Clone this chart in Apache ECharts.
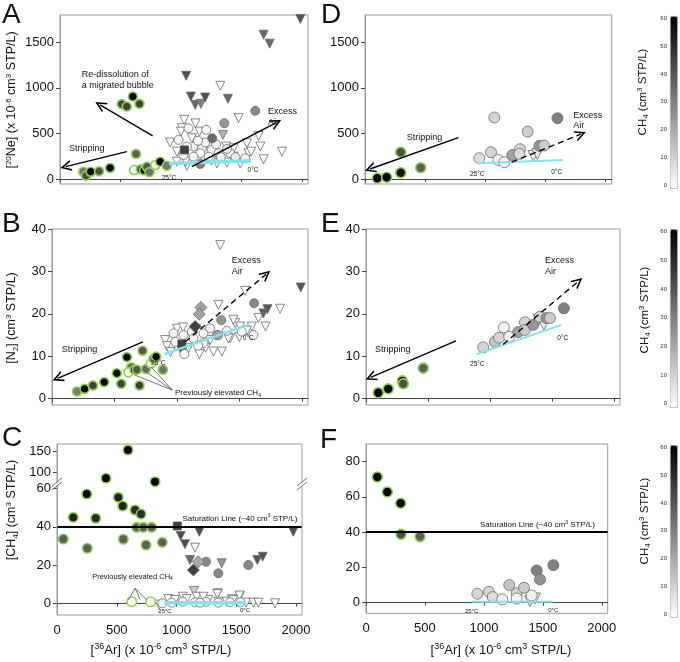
<!DOCTYPE html>
<html><head><meta charset="utf-8">
<script src="https://cdn.jsdelivr.net/npm/echarts@6/dist/echarts.min.js"></script>
<style>html,body{margin:0;padding:0;background:#fff}#c{width:680px;height:662px}</style>
</head><body><div id="c"></div>
<script>
// ---------------- data ----------------
const xTicks = [0, 500, 1000, 1500, 2000];
const neTicks = [0, 500, 1000, 1500];
const n2Ticks = [0, 10, 20, 30, 40];
const ch4LoTicks = [0, 20, 40, 60];
const ch4HiTicks = [100, 150];
const ch4FTicks = [0, 20, 40, 60, 80];
const cbTicks = [0, 10, 20, 30, 40, 50, 60];

// points: [36Ar, value, CH4 shade (0..60)]
const A_green = [[193,80,32],[215,36,42],[254,80,60],[323,85,42],[414,121,60],[511,822,45],[552,795,45],[602,905,60],[657,825,45],[629,275,38],[613,99,0],[668,106,42],[695,95,58],[718,135,40],[740,75,34],[789,154,0],[828,190,60],[883,146,33]];
const A_circ = [[1062,557,2],[1209,539,2],[980,429,2],[1104,356,2],[1173,337,3],[1256,319,2],[1311,283,3],[1159,283,2],[1021,264,2],[1104,245,3],[1228,245,2],[1407,283,2],[1531,227,3],[1049,356,2],[1200,400,2],[1290,380,3],[1140,420,2],[1380,330,5],[1330,240,3],[1450,240,5],[1358,612,25],[1258,447,35],[1159,165,30],[1614,748,28]];
const A_tri = [[1325,1023,0],[1476,668,0],[1026,649,0],[1007,557,0],[1153,520,0],[910,400,0],[1090,447,0],[1347,484,18],[1374,356,0],[1545,392,0],[1656,356,0],[1642,473,0],[1835,300,0],[1683,216,0],[966,190,0],[1049,143,0],[1186,227,0],[1297,172,0],[1435,245,0],[1490,172,0],[1435,337,0],[1214,392,0],[1559,283,0],[966,300,0],[1000,520,0],[1120,610,0],[1040,190,0],[1580,300,0],[1250,200,0],[1380,180,0],[1043,1133,42],[1082,905,40],[1118,814,35],[1165,825,30],[1200,894,42],[1388,880,35],[1683,1584,35],[1733,1485,35],[1987,1757,40]];
const A_sq = [[1029,319,45]];

const B_green = [[200,1.7,32],[261,2.3,60],[328,3.1,45],[418,3.9,60],[519,6.0,60],[554,3.5,45],[600,9.8,60],[634,7.4,35],[613,6.2,0],[661,6.8,60],[680,6.8,40],[701,3.1,45],[725,11.3,40],[752,7.0,35],[792,8.3,0],[813,9.4,35],[834,9.9,60],[888,6.8,33]];
const B_circ = [[973,15.4,2],[1053,15,2],[1120,15.8,2],[1213,15.4,2],[1266,16.6,3],[987,13.4,2],[1133,14.2,2],[1213,13.1,2],[1320,15,3],[1520,15.8,2],[1613,15,2],[1060,10.5,2],[1170,12.5,2],[1400,16,3],[1618,22.5,28],[1355,18.5,25],[1330,15,22]];
const B_tri = [[1347,36.2,0],[1546,25.4,0],[1826,21.2,0],[1653,19,0],[1333,22.1,0],[1466,17.8,0],[1506,17,0],[1600,17,0],[1293,11.1,0],[1426,14.2,0],[907,13.8,0],[920,12.4,0],[1093,11.9,0],[1266,13.8,0],[1360,11.1,0],[1413,14.2,0],[1453,18.6,0],[1000,16.5,0],[950,11,0],[1180,10.5,0],[1230,12,0],[1500,14.5,0],[1560,16,0],[1710,17,0],[1050,16.8,0],[1150,16.5,0],[1992,26.2,40],[1725,21.1,40],[1693,20.1,38],[1040,11.1,42]];
const B_sq = [[1040,12.9,45]];
const B_diam = [[1192,21.5,22],[1179,19.9,22],[1146,17,45]];

const C_green = [[53,33.6,38],[136,44.9,52],[249,57,60],[254,28.8,38],[324,44.4,50],[410,84.5,60],[513,55.3,52],[550,50.8,52],[594,153.9,60],[653,48.7,50],[667,39.7,38],[703,46.6,50],[722,39.7,38],[792,39.7,38],[745,30.5,38],[820,76.2,60],[881,31.9,38],[555,33.5,38],[625,1,0],[784,1,0]];
const C_circ = [[1247,21.8,28],[1350,15.8,28],[1601,20.1,28],[881,0.2,2],[960,0.5,2],[1052,1,2],[1155,0.7,2],[1247,1,2],[1350,0.5,2],[1448,0.7,2],[1537,0.7,2],[1197,0.5,2]];
const C_tri = [[1035,35.2,42],[1191,37.4,42],[1977,37.4,42],[1071,30.9,42],[1155,29.1,0],[1113,22.7,35],[1378,21,25],[1676,22.7,40],[1721,24.4,40],[1146,6.6,12],[1345,5.4,8],[1531,4,0],[1462,2.3,0],[856,-0.5,0],[931,2.4,0],[987,1.9,0],[1052,3.6,0],[1085,2.4,0],[1169,3.6,0],[1266,1.9,0],[1341,5,0],[1420,1,0],[1475,1.9,0],[1526,4.2,0],[1582,0.5,0],[1643,0.5,0],[1685,0.5,0],[1824,0.2,0],[1350,1,0],[1224,3.6,0]];
const C_sq = [[1007,40.4,45]];
const C_diam = [[1182,21.8,20],[1141,17.5,45]];

const D_green = [[102,8,60],[180,19,60],[297,294,42],[297,69,55],[463,124,38]];
const D_circ = [[950,228,8],[1075,675,10],[1047,294,10],[1108,209,3],[1158,184,3],[1224,264,22],[1288,327,10],[1283,275,8],[1352,520,12],[1449,363,25],[1488,367,12],[1599,667,30]];
const D_tri = [[1399,253,5],[1432,275,5]];

const E_green = [[99,1.4,60],[180,2.3,60],[293,4.2,55],[301,3.5,42],[462,7.2,38]];
const E_circ = [[946,12.1,10],[1040,13.4,14],[1075,14.4,10],[1113,16.8,3],[1156,14.6,3],[1228,15.7,22],[1282,18,10],[1282,16.2,12],[1349,17.4,25],[1403,19.3,10],[1457,19,25],[1484,19,12],[1597,21.3,30]];
const E_tri = [[1393,18.6,5],[1435,17.4,5]];

const F_green = [[96,71.3,60],[181,62.8,60],[294,56.4,60],[297,38.8,42],[458,37.5,38]];
const F_circ = [[944,5.1,10],[1043,6.2,10],[1075,3.2,8],[1156,1.9,3],[1215,10,14],[1278,5.3,10],[1278,2.4,3],[1340,8.5,12],[1405,4.1,3],[1448,18.3,30],[1476,13.2,26],[1589,21.3,30]];
const F_tri = [[1391,0.9,5],[1433,2.4,5]];

// air-saturated water lines (25 C -> 0 C)
const A_cyan = [[900,170],[1580,200]];
const B_cyan = [[900,10.5],[1580,17.5]];
const C_cyan = [[900,0.5],[1580,0.5]];
const D_cyan = [[928,172],[1643,209]];
const E_cyan = [[893,10.5],[1578,17.4]];
const F_cyan = [[896,0.5],[1583,0.5]];

// process arrows [from, to]
const A_arrows = [[[766,473],[331,814]],[[552,300],[47,135]],[[1090,135],[1788,619]]];
const B_strip = [[[728,13.4],[45,4.8]]];
const B_air = [[[1066,13.4],[1714,29.3]]];
const D_strip = [[[776,454],[42,110]]];
const D_air = [[[1219,184],[1793,492]]];
const E_strip = [[[726,13.6],[38,5.0]]];
const E_air = [[[1107,12.8],[1712,27.6]]];
const B_callout = [[[965,2.0],[660,5.6]],[[965,2.0],[740,6.6]],[[965,2.0],[790,7.6]]];
const C_callout = [[[653,8],[597,1.9]],[[653,8],[695,2.3]],[[653,8],[751,1.9]]];
const saturation = [[[0,40],[2050,40]]];

// ---------------- chart ----------------
const FONT = '"Liberation Sans", Arial, Helvetica, sans-serif';
const GREEN = '#8fd14f';
const plain = v => String(v);
const grids = [
  {left:60, top:15, width:248, height:169},      // 0 A
  {left:52, top:229, width:256, height:176},     // 1 B
  {left:57, top:444, width:245, height:44.3, show:false},   // 2 C upper
  {left:57, top:488.3, width:245, height:126.7, show:false},// 3 C lower
  {left:365, top:15, width:246.7, height:169},   // 4 D
  {left:366, top:229, width:254, height:176},    // 5 E
  {left:366, top:444, width:241.7, height:169.3},// 6 F
  {left:670, top:16, width:7, height:172, show:false},   // 7 cb1
  {left:670, top:229, width:7, height:178, show:false},  // 8 cb2
  {left:670, top:445, width:7, height:172, show:false}   // 9 cb3
].map(g => Object.assign({show:true, borderColor:'#9a9a9a', borderWidth:1, backgroundColor:'transparent', containLabel:false, outerBoundsMode:'none'}, g));

function xAx(grid, labels, show) {
  return {type:'value', gridIndex:grid, min:0, max:2050, offset:5, show: show !== false,
    axisLine:{show:true, lineStyle:{color:'#444', width:1}},
    axisTick:{show:true, customValues:xTicks, length:3, lineStyle:{color:'#444'}},
    axisLabel:{show:labels, customValues:xTicks, formatter:plain, fontSize:13, fontFamily:FONT, color:'#111', margin:4},
    splitLine:{show:false}};
}
function yAx(grid, min, max, ticks, fs) {
  return {type:'value', gridIndex:grid, min, max,
    axisLine:{show:true, lineStyle:{color:'#9a9a9a', width:1}},
    axisTick:{show:true, customValues:ticks, length:4, lineStyle:{color:'#444'}},
    axisLabel:{customValues:ticks, formatter:plain, fontSize:fs||13, fontFamily:FONT, color:'#111', margin:6},
    splitLine:{show:false}};
}
function cbAx(grid) {
  return {type:'value', gridIndex:grid, min:-1.1, max:60.9,
    axisLine:{show:false}, axisTick:{show:false},
    axisLabel:{customValues:cbTicks, formatter:plain, fontSize:6, fontFamily:FONT, color:'#333', margin:3},
    splitLine:{show:false}};
}
const xAxes = [xAx(0,false), xAx(1,false), xAx(2,false,false), xAx(3,true), xAx(4,false), xAx(5,false), xAx(6,true),
  {type:'value', gridIndex:7, show:false, min:0, max:1}, {type:'value', gridIndex:8, show:false, min:0, max:1}, {type:'value', gridIndex:9, show:false, min:0, max:1}];
const yAxes = [yAx(0,-55,1800,neTicks), yAx(1,-1.5,40,n2Ticks), yAx(2,60,168.6,ch4HiTicks), yAx(3,-5.9,60,ch4LoTicks),
  yAx(4,-55,1800,neTicks), yAx(5,-1.5,40,n2Ticks), yAx(6,-6,90,ch4FTicks), cbAx(7), cbAx(8), cbAx(9)];

const series = [];
const rowSeries = [[], [], []];
function scat(grid, row, data, kind, size) {
  const st = {
    green:{symbol:'circle', bc:GREEN, bw:1.6, rot:0, s:size},
    circ:{symbol:'circle', bc:'#6a6a6a', bw:0.8, rot:0, s:size},
    tri:{symbol:'triangle', bc:'#6a6a6a', bw:0.8, rot:180, s:size},
    sq:{symbol:'rect', bc:'#555', bw:0.8, rot:0, s:size-1},
    diam:{symbol:'diamond', bc:'#666', bw:0.8, rot:0, s:size+3}
  }[kind];
  rowSeries[row].push(series.length);
  series.push({type:'scatter', xAxisIndex:grid, yAxisIndex:grid, data, symbol:st.symbol, symbolSize:st.s,
    symbolRotate:st.rot, itemStyle:{borderColor:st.bc, borderWidth:st.bw, opacity:1}, silent:true, z:2, animation:false});
}
function cyan(grid, data, width) {
  series.push({type:'line', xAxisIndex:grid, yAxisIndex:grid, data, showSymbol:false, symbol:'none',
    lineStyle:{color:'#7fe4ee', width}, z:3, silent:true, animation:false});
}
const ARROW = 'path://M5,0 L10,10 L8.4,10 L5,3.2 L1.6,10 L0,10 Z';
function lines(grid, list, o) {
  series.push({type:'lines', coordinateSystem:'cartesian2d', xAxisIndex:grid, yAxisIndex:grid,
    symbol:o.arrow ? ['none', ARROW] : ['none','none'], symbolSize:o.arrow ? [9,11] : 0,
    lineStyle:{color:o.color||'#000', width:o.width||1.4, type:o.dash ? [6,4] : 'solid', opacity:1, curveness:0},
    data:list.map(c => ({coords:c})), z:o.z||4, silent:true, animation:false});
}
const hi = a => a.filter(p => p[1] > 60);
const lo = a => a.filter(p => p[1] <= 60);

// A
scat(0,0,A_tri,'tri',9); scat(0,0,A_circ,'circ',9); scat(0,0,A_sq,'sq',9); scat(0,0,A_green,'green',9);
cyan(0,A_cyan,3.5); lines(0,A_arrows,{arrow:true});
// B
scat(1,1,B_tri,'tri',9); scat(1,1,B_circ,'circ',9); scat(1,1,B_sq,'sq',9); scat(1,1,B_diam,'diam',9); scat(1,1,B_green,'green',9);
cyan(1,B_cyan,2.5); lines(1,B_strip,{arrow:true}); lines(1,B_air,{arrow:true,dash:true});
lines(1,B_callout,{color:'#555',width:0.8});
// C
scat(3,2,lo(C_tri),'tri',9); scat(3,2,lo(C_circ),'circ',9); scat(3,2,lo(C_sq),'sq',9); scat(3,2,lo(C_diam),'diam',9);
scat(3,2,lo(C_green),'green',9.5); scat(2,2,hi(C_green),'green',9.5);
cyan(3,C_cyan,3.5); lines(3,saturation,{width:2}); lines(3,C_callout,{color:'#555',width:0.8});
// D
scat(4,0,D_tri,'tri',11); scat(4,0,D_circ,'circ',11); scat(4,0,D_green,'green',10);
cyan(4,D_cyan,2); lines(4,D_strip,{arrow:true}); lines(4,D_air,{arrow:true,dash:true});
// E
scat(5,1,E_tri,'tri',11); scat(5,1,E_circ,'circ',11); scat(5,1,E_green,'green',10);
cyan(5,E_cyan,2); lines(5,E_strip,{arrow:true}); lines(5,E_air,{arrow:true,dash:true});
// F
scat(6,2,F_tri,'tri',11); scat(6,2,F_circ,'circ',11); scat(6,2,F_green,'green',10);
cyan(6,F_cyan,2); lines(6,saturation,{width:2});
// colorbar label axes
[7,8,9].forEach(g => series.push({type:'scatter', xAxisIndex:g, yAxisIndex:g, data:[], silent:true}));

function vm(row, top, height) {
  return {type:'continuous', min:0, max:60, dimension:2, seriesIndex:rowSeries[row],
    inRange:{color:['#ffffff','#000000']}, calculable:false, hoverLink:false, realtime:false,
    orient:'vertical', left:670, top, itemWidth:7, itemHeight:height, padding:0, text:null,
    borderColor:'#999', borderWidth:0.8};
}

// text helpers
function T(x, y, text, size, o) {
  o = o || {};
  const fill = o.fill || '#111';
  const lh = Math.round(size * 1.2);
  const small = Math.max(5, Math.round(size * 0.66));
  return {type:'text', x, y, rotation:o.rot || 0, z:100, silent:true,
    style:{text, fontSize:size, fontFamily:FONT, fill, align:o.align || 'left', verticalAlign:'middle', lineHeight:lh,
      rich:{p:{fontSize:small, fontFamily:FONT, fill, verticalAlign:'top', lineHeight:lh},
            b:{fontSize:small, fontFamily:FONT, fill, verticalAlign:'bottom', lineHeight:lh}}}};
}
const R = Math.PI / 2;
const graphics = [
  // C frame and axis-break marks
  {type:'rect', z:90, silent:true, shape:{x:57, y:444, width:245, height:171}, style:{fill:'none', stroke:'#9a9a9a', lineWidth:1}},
  {type:'rect', z:95, silent:true, shape:{x:55, y:482.5, width:4, height:3.5}, style:{fill:'#fff'}},
  {type:'rect', z:95, silent:true, shape:{x:300, y:482.5, width:4, height:3.5}, style:{fill:'#fff'}},
  {type:'line', z:96, silent:true, shape:{x1:52, y1:486, x2:62, y2:478}, style:{stroke:'#666', lineWidth:0.9}},
  {type:'line', z:96, silent:true, shape:{x1:52, y1:490, x2:62, y2:482}, style:{stroke:'#666', lineWidth:0.9}},
  {type:'line', z:96, silent:true, shape:{x1:297, y1:486, x2:307, y2:478}, style:{stroke:'#666', lineWidth:0.9}},
  {type:'line', z:96, silent:true, shape:{x1:297, y1:490, x2:307, y2:482}, style:{stroke:'#666', lineWidth:0.9}},
  // panel letters
  T(2,15,'A',28), T(2,224,'B',28), T(2,438,'C',28), T(321,15,'D',28), T(321,224,'E',28), T(320,440,'F',28),
  // axis titles
  T(12,100,'[{p|20}Ne] (x 10{p|-6} cm{p|3} STP/L)',12.5,{align:'center',rot:R}),
  T(12,318,'[N{b|2}] (cm{p|3} STP/L)',12.5,{align:'center',rot:R}),
  T(12,510,'[CH{b|4}] (cm{p|3} STP/L)',12.5,{align:'center',rot:R}),
  T(161,650,'[{p|36}Ar] (x 10{p|-6} cm{p|3} STP/L)',13,{align:'center'}),
  T(501,650,'[{p|36}Ar] (x 10{p|-6} cm{p|3} STP/L)',13,{align:'center'}),
  T(643,92,'CH{b|4} (cm{p|3} STP/L)',11.5,{align:'center',rot:R}),
  T(645,310,'CH{b|4} (cm{p|3} STP/L)',11.5,{align:'center',rot:R}),
  T(645,521,'CH{b|4} (cm{p|3} STP/L)',11.5,{align:'center',rot:R}),
  // A annotations
  T(81.7,75,'Re-dissolution of',9), T(81.7,86,'a migrated bubble',9), T(69,149,'Stripping',9),
  T(268,111.7,'Excess',9), T(268,122.3,'Air',9), T(169,178.5,'25°C',6.5,{align:'center'}), T(253,170,'0°C',6.5,{align:'center'}),
  // B
  T(231.7,260.7,'Excess',9), T(231.7,271.7,'Air',9), T(61.7,350,'Stripping',9),
  T(158.3,363.3,'25°C',6.5,{align:'center'}), T(248.3,338.3,'0°C',6.5,{align:'center'}),
  T(175,392.7,'Previously elevated CH{b|4}',8),
  // C
  T(240,518.3,'Saturation Line (~40 cm{p|3} STP/L)',8,{align:'center'}),
  T(132.5,576.7,'Previously elevated CH{b|4}',7.5,{align:'center'}),
  T(165,611.7,'25°C',6,{align:'center'}), T(245,610,'0°C',6,{align:'center'}),
  // D
  T(406.7,137.3,'Stripping',9), T(573.3,115.7,'Excess',9), T(573.3,126,'Air',9),
  T(477.3,174.3,'25°C',6.5,{align:'center'}), T(556.7,172.3,'0°C',6.5,{align:'center'}),
  // E
  T(545,260.7,'Excess',9), T(545,271.7,'Air',9), T(375,350,'Stripping',9),
  T(477.3,364,'25°C',6.5,{align:'center'}), T(562.7,338.3,'0°C',6.5,{align:'center'}),
  // F
  T(537.5,525,'Saturation Line (~40 cm{p|3} STP/L)',8,{align:'center'}),
  T(471.7,611,'25°C',6,{align:'center'}), T(553.3,610,'0°C',6,{align:'center'})
];

const chart = echarts.init(document.getElementById('c'), null, {renderer:'canvas'});
chart.setOption({
  animation:false,
  backgroundColor:'#ffffff',
  textStyle:{fontFamily:FONT},
  grid:grids, xAxis:xAxes, yAxis:yAxes,
  visualMap:[vm(0,16,172), vm(1,229,178), vm(2,445,172)],
  series,
  graphic:{elements:graphics}
});
</script></body></html>
